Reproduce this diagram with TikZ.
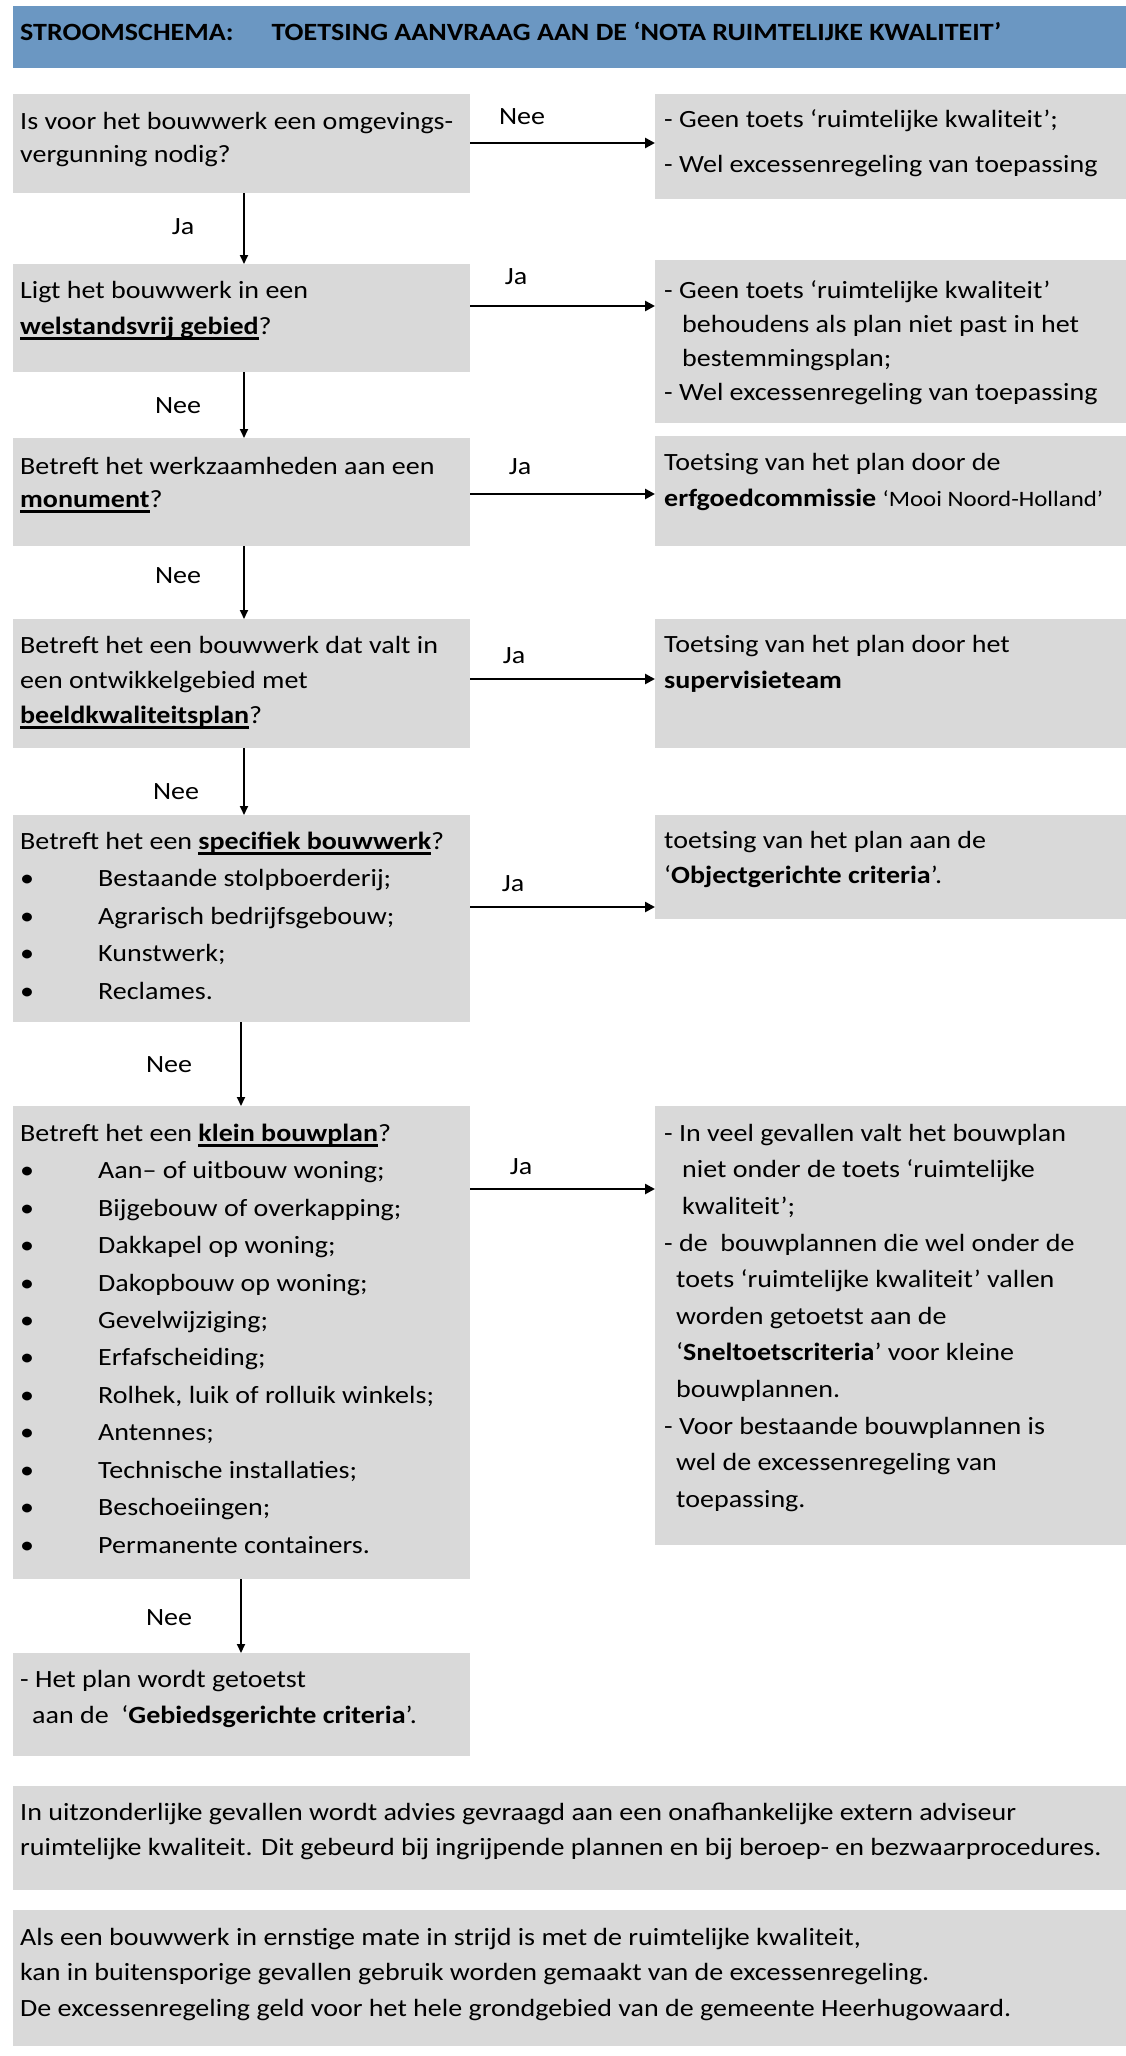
\documentclass[tikz,border=0pt]{standalone}
\usepackage{fontspec}
\setmainfont{Carlito}[FakeStretch=1.13]
\usetikzlibrary{arrows.meta}
\definecolor{boxgray}{RGB}{217,217,217}
\definecolor{hdrblue}{RGB}{107,151,194}
\newsavebox\ulbox
\newcommand\ubf[1]{\sbox\ulbox{\textbf{#1}}\rlap{\usebox\ulbox}\rule[-5.5pt]{\wd\ulbox}{2.3pt}}
\newcommand\bul{\makebox[78pt][l]{•}}
\newcommand\ind[1]{\hspace*{#1pt}}
\begin{document}
\begin{tikzpicture}[x=1pt,y=-1pt,
  box/.style={fill=boxgray, inner sep=0pt, outer sep=0pt, anchor=north west},
  hdr/.style={fill=hdrblue, inner sep=0pt, outer sep=0pt, anchor=north west},
  txt/.style={anchor=north west, inner sep=0pt, align=left, font=\fontsize{24.8}{#1}\selectfont},
  lbl/.style={inner sep=0pt, font=\fontsize{24.8}{30}\selectfont},
  vflow/.style={draw, line width=1.7pt, -{Triangle[length=9pt,width=8pt]}},
  hflow/.style={draw, line width=2.6pt, -{Triangle[length=10pt,width=10pt]}}]
\useasboundingbox (0,0) rectangle (1126,2056);

% header
\node[hdr, minimum width=1113pt, minimum height=62pt] (hd) at (13,6) {};
\node[txt=30] (hdt) at (20,19) {\strut\textbf{STROOMSCHEMA:\hspace*{38pt}TOETSING AANVRAAG AAN DE ‘NOTA RUIMTELIJKE KWALITEIT’}};

% boxes
\node[box, minimum width=457pt, minimum height=99pt]  (q1) at (13,94) {};
\node[box, minimum width=471pt, minimum height=105pt] (r1) at (655,94) {};
\node[box, minimum width=457pt, minimum height=108pt] (q2) at (13,264) {};
\node[box, minimum width=471pt, minimum height=163pt] (r2) at (655,260) {};
\node[box, minimum width=457pt, minimum height=108pt] (q3) at (13,438) {};
\node[box, minimum width=471pt, minimum height=110pt] (r3) at (655,436) {};
\node[box, minimum width=457pt, minimum height=129pt] (q4) at (13,619) {};
\node[box, minimum width=471pt, minimum height=129pt] (r4) at (655,619) {};
\node[box, minimum width=457pt, minimum height=207pt] (q5) at (13,815) {};
\node[box, minimum width=471pt, minimum height=104pt] (r5) at (655,815) {};
\node[box, minimum width=457pt, minimum height=473pt] (q6) at (13,1106) {};
\node[box, minimum width=471pt, minimum height=439pt] (r6) at (655,1106) {};
\node[box, minimum width=457pt, minimum height=103pt] (q7) at (13,1653) {};
\node[box, minimum width=1113pt, minimum height=104pt] (wa) at (13,1786) {};
\node[box, minimum width=1113pt, minimum height=136pt] (wb) at (13,1910) {};

% texts
\node[txt=33] (t1l) at (20,{129-0.7*33}) {\strut Is voor het bouwwerk een omgevings-\\vergunning nodig?};
\node[txt=45] (t1r) at (664,{127-0.7*45}) {\strut- Geen toets ‘ruimtelijke kwaliteit’;\\- Wel excessenregeling van toepassing};
\node[txt=36] (t2l) at (20,{298-0.7*36}) {\strut Ligt het bouwwerk in een\\\ubf{welstandsvrij gebied}?};
\node[txt=34] (t2r) at (664,{298-0.7*34}) {\strut- Geen toets ‘ruimtelijke kwaliteit’\\\ind{18}behoudens als plan niet past in het\\\ind{18}bestemmingsplan;\\- Wel excessenregeling van toepassing};
\node[txt=33] (t3l) at (20,{474-0.7*33}) {\strut Betreft het werkzaamheden aan een\\\ubf{monument}?};
\node[txt=36] (t3r) at (664,{470-0.7*36}) {\strut Toetsing van het plan door de\\\textbf{erfgoedcommissie} {\fontsize{22}{36}\selectfont ‘Mooi Noord-Holland’}};
\node[txt=35] (t4l) at (20,{653-0.7*35}) {\strut Betreft het een bouwwerk dat valt in\\een ontwikkelgebied met\\\ubf{beeldkwaliteitsplan}?};
\node[txt=36] (t4r) at (664,{652-0.7*36}) {\strut Toetsing van het plan door het\\\textbf{supervisieteam}};
\node[txt=37.5] (t5l) at (20,{849-0.7*37.5}) {\strut Betreft het een \ubf{specifiek bouwwerk}?\\\bul Bestaande stolpboerderij;\\\bul Agrarisch bedrijfsgebouw;\\\bul Kunstwerk;\\\bul Reclames.};
\node[txt=35] (t5r) at (664,{848-0.7*35}) {\strut toetsing van het plan aan de\\‘\textbf{Objectgerichte criteria}’.};
\node[txt=37.45] (t6l) at (20,{1141-0.7*37.45}) {\strut Betreft het een \ubf{klein bouwplan}?\\\bul Aan– of uitbouw woning;\\\bul Bijgebouw of overkapping;\\\bul Dakkapel op woning;\\\bul Dakopbouw op woning;\\\bul Gevelwijziging;\\\bul Erfafscheiding;\\\bul Rolhek, luik of rolluik winkels;\\\bul Antennes;\\\bul Technische installaties;\\\bul Beschoeiingen;\\\bul Permanente containers.};
\node[txt=36.6] (t6r) at (664,{1141-0.7*36.6}) {\strut- In veel gevallen valt het bouwplan\\\ind{18}niet onder de toets ‘ruimtelijke\\\ind{18}kwaliteit’;\\- de\ \ bouwplannen die wel onder de\\\ind{12}toets ‘ruimtelijke kwaliteit’ vallen\\\ind{12}worden getoetst aan de\\\ind{12}‘\textbf{Sneltoetscriteria}’ voor kleine\\\ind{12}bouwplannen.\\- Voor bestaande bouwplannen is\\\ind{12}wel de excessenregeling van\\\ind{12}toepassing.};
\node[txt=36] (t7) at (20,{1687-0.7*36}) {\strut- Het plan wordt getoetst\\\ind{12}aan de\ \ ‘\textbf{Gebiedsgerichte criteria}’.};
\node[txt=35] (ta) at (20,{1820-0.7*35}) {\strut In uitzonderlijke gevallen wordt advies gevraagd aan een onafhankelijke extern adviseur\\ruimtelijke kwaliteit. Dit gebeurd bij ingrijpende plannen en bij beroep- en bezwaarprocedures.};
\node[txt=35.5] (tb) at (20,{1945-0.7*35.5}) {\strut Als een bouwwerk in ernstige mate in strijd is met de ruimtelijke kwaliteit,\\kan in buitensporige gevallen gebruik worden gemaakt van de excessenregeling.\\De excessenregeling geld voor het hele grondgebied van de gemeente Heerhugowaard.};

% connectors
\coordinate (h1) at (0,143);
\coordinate (h2) at (0,306);
\coordinate (h3) at (0,494);
\coordinate (h4) at (0,679);
\coordinate (h5) at (0,907);
\coordinate (h6) at (0,1189);
\coordinate (vx1) at (244,0);
\coordinate (vx2) at (241,0);
\draw[hflow] (q1.east |- h1) -- (r1.west |- h1);
\draw[hflow] (q2.east |- h2) -- (r2.west |- h2);
\draw[hflow] (q3.east |- h3) -- (r3.west |- h3);
\draw[hflow] (q4.east |- h4) -- (r4.west |- h4);
\draw[hflow] (q5.east |- h5) -- (r5.west |- h5);
\draw[hflow] (q6.east |- h6) -- (r6.west |- h6);
\draw[vflow] (q1.south -| vx1) -- (q2.north -| vx1);
\draw[vflow] (q2.south -| vx1) -- (q3.north -| vx1);
\draw[vflow] (q3.south -| vx1) -- (q4.north -| vx1);
\draw[vflow] (q4.south -| vx1) -- (q5.north -| vx1);
\draw[vflow] (q5.south -| vx2) -- (q6.north -| vx2);
\draw[vflow] (q6.south -| vx2) -- (q7.north -| vx2);

% labels
\node[lbl] (l1) at (522,117) {Nee};
\node[lbl] (l2) at (183,227) {Ja};
\node[lbl] (l3) at (516,277) {Ja};
\node[lbl] (l4) at (178,406) {Nee};
\node[lbl] (l5) at (520,467) {Ja};
\node[lbl] (l6) at (178,576) {Nee};
\node[lbl] (l7) at (514,656) {Ja};
\node[lbl] (l8) at (176,792) {Nee};
\node[lbl] (l9) at (513,884) {Ja};
\node[lbl] (l10) at (169,1065) {Nee};
\node[lbl] (l11) at (521,1167) {Ja};
\node[lbl] (l12) at (169,1618) {Nee};
\end{tikzpicture}
\end{document}
